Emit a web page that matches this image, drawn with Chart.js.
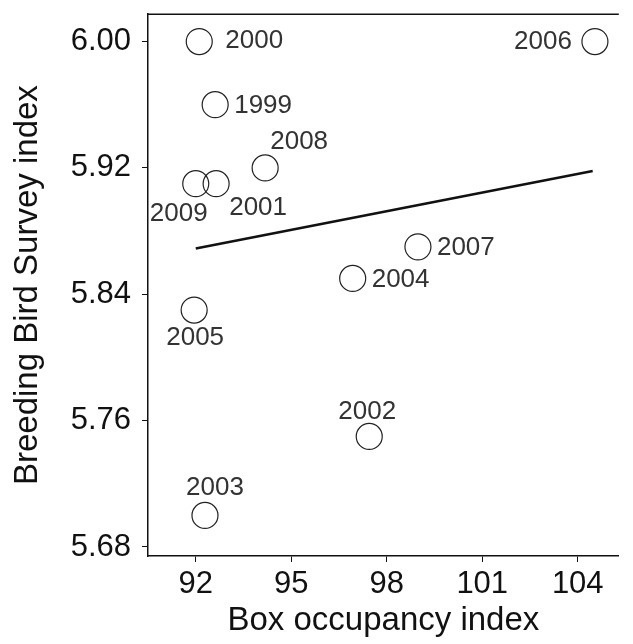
<!DOCTYPE html>
<html>
<head>
<meta charset="utf-8">
<script src="https://cdn.jsdelivr.net/npm/chart.js@4.4.0/dist/chart.umd.min.js"></script>
<style>
  html, body { margin: 0; padding: 0; background: #fff; }
  #wrap { width: 633px; height: 644px; }
</style>
</head>
<body>
<div id="wrap"><canvas id="scatterChart" width="633" height="644"></canvas></div>
<script>
// Data
const years = ['1999', '2000', '2001', '2002', '2003', '2004', '2005', '2006', '2007', '2008', '2009'];
const boxOccupancy = [92.61, 92.11, 92.64, 97.45, 92.29, 96.93, 91.95, 104.54, 98.98, 94.18, 92.0];
const birdSurvey = [5.96, 6.00, 5.91, 5.75, 5.70, 5.85, 5.83, 6.00, 5.87, 5.92, 5.91];

// Fitted line, two ends
const fitX = [92.0, 104.47];
const fitY = [5.869, 5.918];

const xTicks = [92, 95, 98, 101, 104];
const yTicks = [5.68, 5.76, 5.84, 5.92, 6.00];

// where each year label sits relative to its circle
const labelPlacement = ['right', 'rightWide', 'belowRight', 'above', 'aboveShift', 'right', 'below', 'left', 'right', 'aboveRight', 'belowLeft'];

const placements = {
    right:      { align: 'left',   dx: 19,  dy: 1 },
    rightWide:  { align: 'left',   dx: 26,  dy: -1 },
    left:       { align: 'right',  dx: -23, dy: 0 },
    above:      { align: 'center', dx: -2,  dy: -25 },
    aboveShift: { align: 'center', dx: 10,  dy: -28 },
    below:      { align: 'center', dx: 1,   dy: 28 },
    aboveRight: { align: 'center', dx: 34,  dy: -26 },
    belowLeft:  { align: 'center', dx: -17, dy: 30 },
    belowRight: { align: 'center', dx: 42,  dy: 24 }
};

const fontFamily = "'Liberation Sans', Arial, sans-serif";

// Year labels next to the circles + the top frame line
const yearLabels = {
    id: 'yearLabels',
    afterDatasetsDraw(chart) {
        const ctx = chart.ctx;
        const meta = chart.getDatasetMeta(0);
        ctx.save();
        ctx.font = '26px ' + fontFamily;
        ctx.fillStyle = '#333';
        ctx.textBaseline = 'middle';
        meta.data.forEach((pt, i) => {
            const p = placements[labelPlacement[i]];
            ctx.textAlign = p.align;
            ctx.fillText(years[i], pt.x + p.dx, pt.y + p.dy);
        });
        // top border of the box
        const area = chart.chartArea;
        ctx.strokeStyle = '#111';
        ctx.lineWidth = 1.5;
        ctx.beginPath();
        ctx.moveTo(area.left, area.top);
        ctx.lineTo(area.right, area.top);
        ctx.stroke();
        ctx.restore();
    }
};

const ctx = document.getElementById('scatterChart').getContext('2d');

new Chart(ctx, {
    type: 'scatter',
    data: {
        datasets: [
            {
                label: 'Years',
                data: boxOccupancy.map((x, i) => ({ x: x, y: birdSurvey[i] })),
                pointStyle: 'circle',
                pointRadius: 13,
                pointHoverRadius: 13,
                pointBorderWidth: 1.2,
                pointBorderColor: '#222',
                pointBackgroundColor: 'rgba(0,0,0,0)'
            },
            {
                label: 'Fit',
                type: 'line',
                data: fitX.map((x, i) => ({ x: x, y: fitY[i] })),
                borderColor: '#111',
                borderWidth: 2.6,
                pointRadius: 0,
                fill: false,
                tension: 0
            }
        ]
    },
    plugins: [yearLabels],
    options: {
        responsive: false,
        maintainAspectRatio: false,
        animation: false,
        layout: {
            padding: { left: 0, right: 0, top: 13, bottom: 0 }
        },
        plugins: {
            legend: { display: false },
            tooltip: { enabled: false }
        },
        scales: {
            x: {
                type: 'linear',
                min: 90.5,
                max: 105.29,
                afterBuildTicks: (axis) => { axis.ticks = xTicks.map(v => ({ value: v })); },
                afterFit: (axis) => {
                    axis.height = 88;
                    axis.paddingLeft = 0;
                    axis.paddingRight = 0;
                },
                grid: {
                    display: true,
                    drawOnChartArea: false,
                    drawTicks: true,
                    tickLength: 6,
                    color: '#111',
                    lineWidth: 1
                },
                border: { display: true, color: '#111', width: 1.5 },
                ticks: {
                    padding: 4,
                    color: '#111',
                    font: { size: 31, family: fontFamily },
                    callback: (v) => String(v)
                },
                title: {
                    display: true,
                    text: 'Box occupancy index',
                    color: '#111',
                    font: { size: 33, family: fontFamily },
                    padding: { top: 0, bottom: 3 }
                }
            },
            y: {
                type: 'linear',
                min: 5.6743,
                max: 6.0173,
                afterBuildTicks: (axis) => { axis.ticks = yTicks.map(v => ({ value: v })); },
                afterFit: (axis) => {
                    axis.width = 148;
                    axis.paddingTop = 0;
                    axis.paddingBottom = 0;
                },
                grid: {
                    display: true,
                    drawOnChartArea: false,
                    drawTicks: true,
                    tickLength: 6,
                    color: '#111',
                    lineWidth: 1
                },
                border: { display: true, color: '#111', width: 1.5 },
                ticks: {
                    padding: 11,
                    color: '#111',
                    font: { size: 31, family: fontFamily },
                    callback: (v) => Number(v).toFixed(2)
                },
                title: {
                    display: true,
                    text: 'Breeding Bird Survey index',
                    color: '#111',
                    font: { size: 33, family: fontFamily },
                    padding: { top: 8, bottom: 0 }
                }
            }
        }
    }
});
</script>
</body>
</html>
